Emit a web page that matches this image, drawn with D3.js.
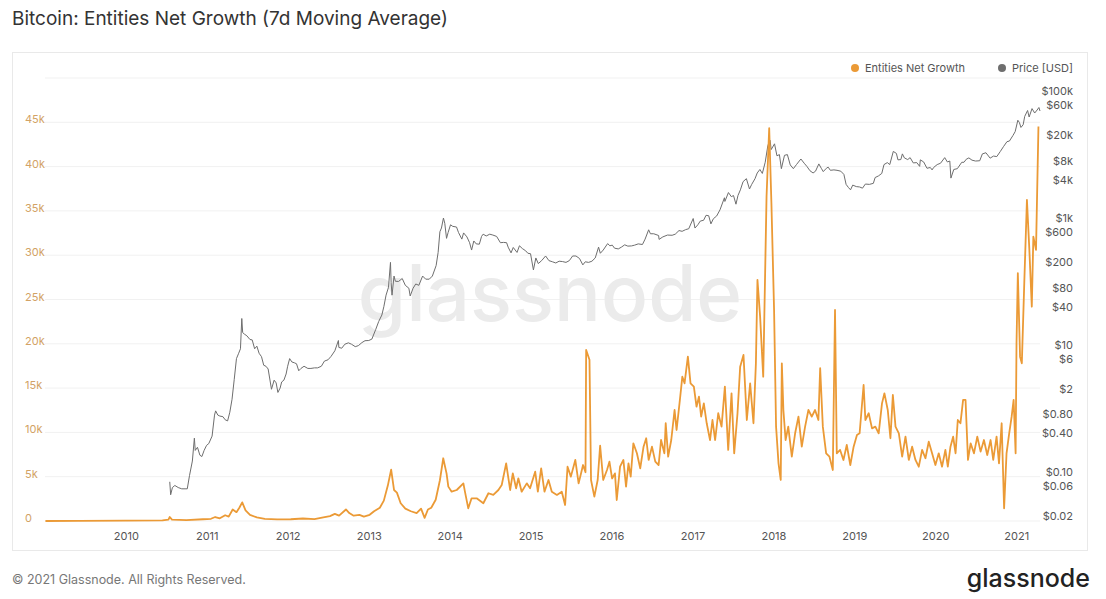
<!DOCTYPE html>
<html lang="en">
<head>
<meta charset="utf-8">
<title>Bitcoin: Entities Net Growth (7d Moving Average)</title>
<script src="https://cdn.jsdelivr.net/npm/d3@7"></script>
<style>
  body { margin: 0; background: #fff; }
  text { font-family: Inter, "Open Sans", sans-serif; }
</style>
</head>
<body>
<script>

var width = 1106;
var height = 599;

// entities net growth, 7d MA: [date, entities]
var growthData = [
  ["2009-01-03",0],["2009-06-01",20],["2010-01-01",40],["2010-06-15",60],["2010-07-12",150],["2010-07-18",450],
  ["2010-07-28",150],["2010-10-01",100],["2010-12-15",200],["2011-01-20",250],["2011-02-08",450],["2011-03-01",300],
  ["2011-03-25",650],["2011-04-10",500],["2011-04-28",1300],["2011-05-15",1000],["2011-05-28",1500],["2011-06-10",2100],
  ["2011-06-25",1200],["2011-07-15",700],["2011-08-15",400],["2011-09-20",250],["2011-11-15",180],["2012-01-15",200],
  ["2012-03-10",280],["2012-05-01",220],["2012-06-10",400],["2012-07-10",550],["2012-08-01",800],["2012-08-20",600],
  ["2012-09-20",1300],["2012-10-05",900],["2012-10-25",600],["2012-11-20",700],["2012-12-10",500],["2013-01-05",700],
  ["2013-01-25",1100],["2013-02-20",1500],["2013-03-10",2300],["2013-03-28",4000],["2013-04-12",5800],["2013-04-25",3500],
  ["2013-05-08",3200],["2013-05-25",2000],["2013-06-15",1400],["2013-07-10",1100],["2013-08-05",900],["2013-08-25",1400],
  ["2013-09-10",350],["2013-09-25",1300],["2013-10-10",1500],["2013-10-30",2400],["2013-11-18",4600],["2013-12-03",7080],
  ["2013-12-18",5380],["2013-12-26",3880],["2014-01-10",3310],["2014-02-02",3500],["2014-03-04",4250],["2014-03-11",3310],
  ["2014-03-26",1430],["2014-04-10",2560],["2014-05-03",2560],["2014-06-02",2000],["2014-06-25",3130],["2014-07-17",2940],
  ["2014-08-09",3500],["2014-08-24",4060],["2014-09-13",6510],["2014-10-01",3500],["2014-10-13",5380],["2014-10-28",3690],
  ["2014-11-07",4820],["2014-11-22",3310],["2014-12-15",4250],["2014-12-30",3690],["2015-01-22",5570],["2015-02-03",3310],
  ["2015-02-18",5950],["2015-03-05",3310],["2015-03-23",4630],["2015-04-07",3310],["2015-04-30",2940],["2015-05-22",3310],
  ["2015-06-06",1810],["2015-06-17",6130],["2015-07-02",5010],["2015-07-22",6890],["2015-08-06",4250],["2015-08-26",6320],
  ["2015-09-06",5500],["2015-09-09",19300],["2015-09-24",18200],["2015-10-01",4630],["2015-10-16",2750],["2015-10-31",4630],
  ["2015-11-11",8500],["2015-11-25",4630],["2015-12-12",5760],["2015-12-23",6700],["2016-01-04",4800],["2016-01-17",5380],
  ["2016-01-25",2370],["2016-02-09",6130],["2016-02-24",6890],["2016-03-07",3880],["2016-03-18",6510],["2016-03-28",5010],
  ["2016-04-09",8770],["2016-04-25",7640],["2016-05-10",5950],["2016-05-25",8390],["2016-06-06",9340],["2016-06-17",6890],
  ["2016-07-02",8390],["2016-07-17",6700],["2016-08-01",6320],["2016-08-12",9140],["2016-08-27",7640],["2016-09-02",11030],
  ["2016-09-13",7260],["2016-09-27",9140],["2016-10-12",12530],["2016-10-21",10270],["2016-11-05",13660],["2016-11-16",16290],
  ["2016-11-26",15540],["2016-12-11",18550],["2016-12-23",15540],["2017-01-07",15170],["2017-01-19",12900],["2017-01-30",14030],
  ["2017-02-09",11780],["2017-02-21",13280],["2017-03-06",11030],["2017-03-21",9140],["2017-04-01",11400],["2017-04-13",9140],
  ["2017-04-27",12160],["2017-05-12",10650],["2017-05-27",15170],["2017-06-11",8020],["2017-06-26",14410],["2017-07-08",7640],
  ["2017-07-23",12160],["2017-08-04",17420],["2017-08-19",18740],["2017-09-03",11400],["2017-09-18",15540],["2017-10-03",11030],
  ["2017-10-14",17800],["2017-10-21",27210],["2017-11-02",23070],["2017-11-16",16290],["2017-12-01",36620],["2017-12-13",44330],
  ["2017-12-23",35860],["2018-01-04",23820],["2018-01-13",10650],["2018-01-24",6510],["2018-02-03",4630],["2018-02-08",17800],
  ["2018-02-15",12530],["2018-02-25",9140],["2018-03-09",10650],["2018-03-25",7260],["2018-04-09",9900],["2018-04-24",11780],
  ["2018-05-09",8390],["2018-05-24",10650],["2018-06-08",12530],["2018-06-23",11780],["2018-07-08",12530],["2018-07-23",11400],
  ["2018-07-31",17240],["2018-08-12",10650],["2018-08-27",7640],["2018-09-11",7260],["2018-09-26",5760],["2018-10-06",23820],
  ["2018-10-14",7640],["2018-10-29",8020],["2018-11-13",6890],["2018-11-28",8580],["2018-12-14",6320],["2018-12-29",8390],
  ["2019-01-13",9710],["2019-01-25",9900],["2019-02-12",15350],["2019-02-20",11400],["2019-03-07",12160],["2019-03-22",10460],
  ["2019-04-06",10650],["2019-04-21",9900],["2019-05-06",13280],["2019-05-17",14410],["2019-06-01",12530],["2019-06-13",9340],
  ["2019-06-24",14220],["2019-07-06",10650],["2019-07-21",9900],["2019-08-05",7260],["2019-08-20",9520],["2019-09-04",6890],
  ["2019-09-19",8390],["2019-10-04",6890],["2019-10-19",6130],["2019-11-03",8020],["2019-11-18",7080],["2019-12-03",8950],
  ["2019-12-18",7640],["2020-01-02",6320],["2020-01-17",7640],["2020-02-01",6130],["2020-02-16",8020],["2020-02-27",6130],
  ["2020-03-10",8390],["2020-03-22",9520],["2020-04-02",7640],["2020-04-12",11400],["2020-04-24",11030],["2020-05-06",13660],
  ["2020-05-17",13660],["2020-05-28",6890],["2020-06-09",8770],["2020-06-24",7640],["2020-07-09",9520],["2020-07-24",7830],
  ["2020-08-08",9140],["2020-08-23",7450],["2020-09-07",9140],["2020-09-19",6890],["2020-10-04",9520],["2020-10-15",6510],
  ["2020-10-27",11030],["2020-11-07",1430],["2020-11-18",7640],["2020-11-30",9900],["2020-12-11",11780],["2020-12-20",13660],
  ["2020-12-29",7640],["2021-01-02",20060],["2021-01-08",27960],["2021-01-18",18550],["2021-01-26",17800],["2021-02-06",26830],
  ["2021-02-18",36240],["2021-03-01",30600],["2021-03-12",24200],["2021-03-19",32100],["2021-03-31",30600],["2021-04-11",44520]
];

// BTC price, USD: [date, price]
var priceData = [
  ["2010-07-18",0.08],["2010-07-22",0.05],["2010-07-30",0.065],["2010-08-10",0.07],["2010-08-25",0.065],["2010-09-10",0.062],
  ["2010-09-25",0.062],["2010-10-05",0.062],["2010-10-15",0.1],["2010-10-28",0.17],["2010-11-06",0.39],["2010-11-10",0.25],
  ["2010-11-20",0.28],["2010-12-01",0.21],["2010-12-10",0.2],["2010-12-20",0.25],["2010-12-31",0.3],
  ["2011-01-10",0.32],["2011-01-25",0.42],["2011-02-05",0.9],["2011-02-10",1.05],["2011-02-20",0.9],["2011-03-01",0.87],
  ["2011-03-15",0.85],["2011-03-25",0.76],["2011-04-05",0.73],["2011-04-15",1.0],["2011-04-25",1.6],["2011-05-05",3.3],
  ["2011-05-15",7.0],["2011-05-25",8.5],["2011-06-02",10],["2011-06-08",30],["2011-06-12",18],["2011-06-20",17],
  ["2011-07-01",16],["2011-07-15",14],["2011-07-25",13.8],["2011-08-05",10],["2011-08-15",11],["2011-08-25",8.5],
  ["2011-09-05",7.5],["2011-09-15",5.5],["2011-09-25",5.3],["2011-10-05",4.8],["2011-10-20",2.3],["2011-11-01",3.2],
  ["2011-11-10",2.9],["2011-11-18",2.05],["2011-11-28",2.4],["2011-12-05",3.0],["2011-12-15",3.2],["2011-12-25",4.0],
  ["2012-01-01",5.3],["2012-01-10",7.0],["2012-01-20",6.2],["2012-02-01",6.0],["2012-02-10",5.8],["2012-02-20",4.5],
  ["2012-03-01",4.9],["2012-03-15",5.3],["2012-04-01",4.9],["2012-04-15",4.9],["2012-05-01",5.0],["2012-05-15",5.0],
  ["2012-06-01",5.3],["2012-06-15",6.4],["2012-07-01",6.7],["2012-07-15",7.6],["2012-08-01",9.3],["2012-08-17",13.5],
  ["2012-08-19",10.5],["2012-09-01",10.2],["2012-09-15",11.8],["2012-10-01",12.4],["2012-10-15",11.8],["2012-11-01",10.8],
  ["2012-11-15",11.2],["2012-12-01",12.5],["2012-12-15",13.4],
  ["2013-01-01",13.5],["2013-01-15",14.2],["2013-02-01",20],["2013-02-15",27],["2013-03-01",34],["2013-03-10",46],
  ["2013-03-20",70],["2013-03-31",93],["2013-04-09",230],["2013-04-12",110],["2013-04-16",70],["2013-04-25",140],
  ["2013-05-01",116],["2013-05-15",115],["2013-06-01",128],["2013-06-15",100],["2013-07-01",90],["2013-07-07",68],
  ["2013-07-20",90],["2013-08-01",105],["2013-08-15",100],["2013-09-01",140],["2013-09-15",125],["2013-10-01",125],
  ["2013-10-15",140],["2013-11-01",205],["2013-11-10",330],["2013-11-18",700],["2013-11-25",800],["2013-12-04",1150],
  ["2013-12-10",950],["2013-12-18",550],["2013-12-25",680],
  ["2014-01-05",900],["2014-01-15",850],["2014-02-01",830],["2014-02-10",680],["2014-02-25",535],["2014-03-05",670],
  ["2014-03-20",580],["2014-04-01",470],["2014-04-10",360],["2014-04-20",500],["2014-05-01",450],["2014-05-15",445],
  ["2014-05-25",590],["2014-06-01",640],["2014-06-15",600],["2014-07-01",640],["2014-07-15",620],["2014-08-01",590],
  ["2014-08-18",470],["2014-09-01",475],["2014-09-15",470],["2014-09-22",400],["2014-10-05",325],["2014-10-15",395],
  ["2014-11-01",330],["2014-11-12",420],["2014-11-25",380],["2014-12-10",350],["2014-12-20",320],
  ["2015-01-01",315],["2015-01-14",175],["2015-01-25",270],["2015-02-05",220],["2015-02-20",245],["2015-03-10",290],
  ["2015-03-25",245],["2015-04-10",235],["2015-04-25",225],["2015-05-10",240],["2015-05-25",237],["2015-06-10",230],
  ["2015-06-25",245],["2015-07-10",290],["2015-07-25",290],["2015-08-10",265],["2015-08-25",210],["2015-09-05",235],
  ["2015-09-20",230],["2015-10-05",240],["2015-10-20",270],["2015-11-04",400],["2015-11-12",320],["2015-11-25",360],
  ["2015-12-15",455],["2015-12-25",420],
  ["2016-01-05",430],["2016-01-15",385],["2016-02-01",375],["2016-02-15",400],["2016-03-01",435],["2016-03-15",415],
  ["2016-04-01",418],["2016-04-15",430],["2016-05-01",450],["2016-05-20",440],["2016-06-01",535],["2016-06-17",750],
  ["2016-06-25",650],["2016-07-10",650],["2016-08-01",610],["2016-08-03",530],["2016-08-20",580],["2016-09-10",620],
  ["2016-10-01",615],["2016-10-15",640],["2016-11-01",730],["2016-11-15",710],["2016-12-01",755],["2016-12-15",780],
  ["2017-01-04",1130],["2017-01-12",800],["2017-01-25",900],["2017-02-05",1030],["2017-02-20",1060],["2017-03-03",1270],
  ["2017-03-15",1250],["2017-03-25",930],["2017-04-05",1120],["2017-04-20",1240],["2017-05-05",1550],["2017-05-25",2400],
  ["2017-05-27",2100],["2017-06-12",2900],["2017-06-25",2500],["2017-07-05",2600],["2017-07-16",1900],["2017-07-25",2600],
  ["2017-08-05",3200],["2017-08-17",4300],["2017-09-01",4800],["2017-09-15",3300],["2017-09-25",3900],["2017-10-10",4800],
  ["2017-10-20",5900],["2017-11-01",6700],["2017-11-12",5800],["2017-11-25",8700],["2017-12-07",16000],["2017-12-17",19300],
  ["2017-12-22",13800],
  ["2018-01-06",17000],["2018-01-17",11000],["2018-01-28",11500],["2018-02-06",6900],["2018-02-20",11200],["2018-03-05",11500],
  ["2018-03-18",7900],["2018-04-01",6900],["2018-04-15",8000],["2018-05-05",9800],["2018-05-20",8400],["2018-06-01",7500],
  ["2018-06-15",6400],["2018-06-29",5900],["2018-07-10",6300],["2018-07-25",8200],["2018-08-05",7000],["2018-08-14",6200],
  ["2018-08-28",7000],["2018-09-05",7300],["2018-09-15",6500],["2018-10-01",6600],["2018-10-15",6500],["2018-11-01",6300],
  ["2018-11-15",5600],["2018-11-25",3900],["2018-12-05",3500],["2018-12-15",3200],["2018-12-25",3800],
  ["2019-01-10",3600],["2019-01-25",3550],["2019-02-07",3400],["2019-02-20",3950],["2019-03-10",3900],["2019-03-28",4050],
  ["2019-04-05",5000],["2019-04-20",5300],["2019-05-05",5800],["2019-05-15",8000],["2019-05-30",8600],["2019-06-10",8000],
  ["2019-06-26",12900],["2019-07-10",12000],["2019-07-17",9500],["2019-07-30",9600],["2019-08-06",11800],["2019-08-15",10200],
  ["2019-08-30",9600],["2019-09-10",10300],["2019-09-24",8500],["2019-10-10",8600],["2019-10-23",7500],["2019-10-26",9500],
  ["2019-11-10",8800],["2019-11-25",7000],["2019-12-10",7200],["2019-12-18",6600],["2019-12-25",7200],
  ["2020-01-10",8000],["2020-01-25",8400],["2020-02-13",10300],["2020-02-25",8800],["2020-03-07",9100],["2020-03-12",4900],
  ["2020-03-25",6700],["2020-04-10",6900],["2020-04-30",8700],["2020-05-10",8700],["2020-05-20",9700],["2020-06-01",10200],
  ["2020-06-15",9400],["2020-07-01",9100],["2020-07-20",9200],["2020-08-01",11800],["2020-08-17",12300],["2020-09-05",10100],
  ["2020-09-20",10900],["2020-10-05",10700],["2020-10-21",12900],["2020-11-05",15500],["2020-11-20",18400],["2020-12-01",18800],
  ["2020-12-17",23000],["2020-12-27",26500],
  ["2021-01-08",40000],["2021-01-15",36800],["2021-01-22",30800],["2021-02-01",34000],["2021-02-08",46000],["2021-02-21",57000],
  ["2021-02-28",45000],["2021-03-13",61000],["2021-03-25",52000],["2021-04-05",58000],["2021-04-13",63500],["2021-04-18",56000]
];

var growthTicks = [0, 5000, 10000, 15000, 20000, 25000, 30000, 35000, 40000, 45000];
var gridTicks = [0, 5000, 10000, 15000, 20000, 25000, 30000, 35000, 40000, 45000, 50000];
var priceTicks = [0.02, 0.06, 0.1, 0.4, 0.8, 2, 6, 10, 40, 80, 200, 600, 1000, 4000, 8000, 20000, 60000, 100000];
var priceTickLabels = ["$0.02","$0.06","$0.10","$0.40","$0.80","$2","$6","$10","$40","$80","$200","$600","$1k","$4k","$8k","$20k","$60k","$100k"];
var yearTicks = [2010, 2011, 2012, 2013, 2014, 2015, 2016, 2017, 2018, 2019, 2020, 2021];

var parse = d3.timeParse("%Y-%m-%d");
var growth = growthData.map(function(d){ return {date: parse(d[0]), value: d[1]}; });
var price = priceData.map(function(d){ return {date: parse(d[0]), value: d[1]}; });

var svg = d3.select("body").append("svg")
            .attr("width", width)
            .attr("height", height);

var x = d3.scaleTime()
          .domain([new Date(2009, 0, 1), new Date(2021, 3, 18)])
          .range([45, 1040]);
var y = d3.scaleLinear().domain([0, 50000]).range([521, 78]);
var yPrice = d3.scaleLog().domain([0.02, 100000]).range([520, 95]);

// title
svg.append("text")
   .attr("x", 12).attr("y", 25)
   .attr("font-size", 19).attr("fill", "#333")
   .text("Bitcoin: Entities Net Growth (7d Moving Average)");

// panel
svg.append("rect")
   .attr("x", 12.5).attr("y", 52.5)
   .attr("width", 1075).attr("height", 498)
   .attr("fill", "#fff").attr("stroke", "#e9e9e9");

// gridlines
svg.append("g").selectAll("line")
   .data(gridTicks).enter().append("line")
   .attr("x1", 45).attr("x2", 1040)
   .attr("y1", function(d){ return y(d); })
   .attr("y2", function(d){ return y(d); })
   .attr("stroke", "#f1f1f1");

// watermark
svg.append("text")
   .attr("x", 550).attr("y", 321)
   .attr("text-anchor", "middle")
   .attr("font-size", 78).attr("font-weight", 500)
   .attr("fill", "#ebebeb")
   .text("glassnode");

// left axis
var yAxis = d3.axisLeft(y).tickValues(growthTicks).tickSize(0)
              .tickFormat(function(d){ return d === 0 ? "0" : (d / 1000) + "k"; });
var gy = svg.append("g").attr("transform", "translate(25,-3)").call(yAxis);
gy.select(".domain").remove();
gy.selectAll("text").attr("text-anchor", "start").attr("x", 0)
  .attr("font-size", 11).attr("fill", "#d2a265").style("font-family", "Inter, 'Open Sans', sans-serif");

// right axis (log price)
var yAxisR = d3.axisRight(yPrice).tickValues(priceTicks).tickSize(0)
               .tickFormat(function(d, i){ return priceTickLabels[i]; });
var gr = svg.append("g").attr("transform", "translate(1073,-4)").call(yAxisR);
gr.select(".domain").remove();
gr.selectAll("text").attr("text-anchor", "end").attr("x", 0)
  .attr("font-size", 11).attr("fill", "#555").style("font-family", "Inter, 'Open Sans', sans-serif");

// x axis
var xAxis = d3.axisBottom(x)
              .tickValues(yearTicks.map(function(yr){ return new Date(yr, 0, 1); }))
              .tickSize(0).tickFormat(d3.timeFormat("%Y"));
var gx = svg.append("g").attr("transform", "translate(0,529)").call(xAxis);
gx.select(".domain").remove();
gx.selectAll("text").attr("font-size", 11).attr("fill", "#555")
  .style("font-family", "Inter, 'Open Sans', sans-serif");

// price line
var priceLine = d3.line()
                  .x(function(d){ return x(d.date); })
                  .y(function(d){ return yPrice(d.value); });
svg.append("path")
   .datum(price)
   .attr("d", priceLine)
   .attr("fill", "none")
   .attr("stroke", "#6e6e6e")
   .attr("stroke-width", 1);

// entities line
var growthLine = d3.line()
                   .x(function(d){ return x(d.date); })
                   .y(function(d){ return y(d.value); });
svg.append("path")
   .datum(growth)
   .attr("d", growthLine)
   .attr("fill", "none")
   .attr("stroke", "#eb9a36")
   .attr("stroke-width", 1.8)
   .attr("stroke-linejoin", "round");

// legend
var legend = [{label: "Entities Net Growth", color: "#eb9a36", x: 855},
              {label: "Price [USD]", color: "#6e6e6e", x: 1002}];
var lg = svg.append("g").selectAll("g").data(legend).enter().append("g");
lg.append("circle")
  .attr("cx", function(d){ return d.x; }).attr("cy", 68).attr("r", 4)
  .attr("fill", function(d){ return d.color; });
lg.append("text")
  .attr("x", function(d){ return d.x + 10; }).attr("y", 72)
  .attr("font-size", 11).attr("fill", "#555")
  .text(function(d){ return d.label; });

// footer
svg.append("text")
   .attr("x", 12).attr("y", 584)
   .attr("font-size", 12.5).attr("fill", "#777")
   .text("\u00a9 2021 Glassnode. All Rights Reserved.");
svg.append("text")
   .attr("x", 1090).attr("y", 587)
   .attr("text-anchor", "end")
   .attr("font-size", 25).attr("font-weight", 500).attr("fill", "#222")
   .text("glassnode");

</script>
</body>
</html>
